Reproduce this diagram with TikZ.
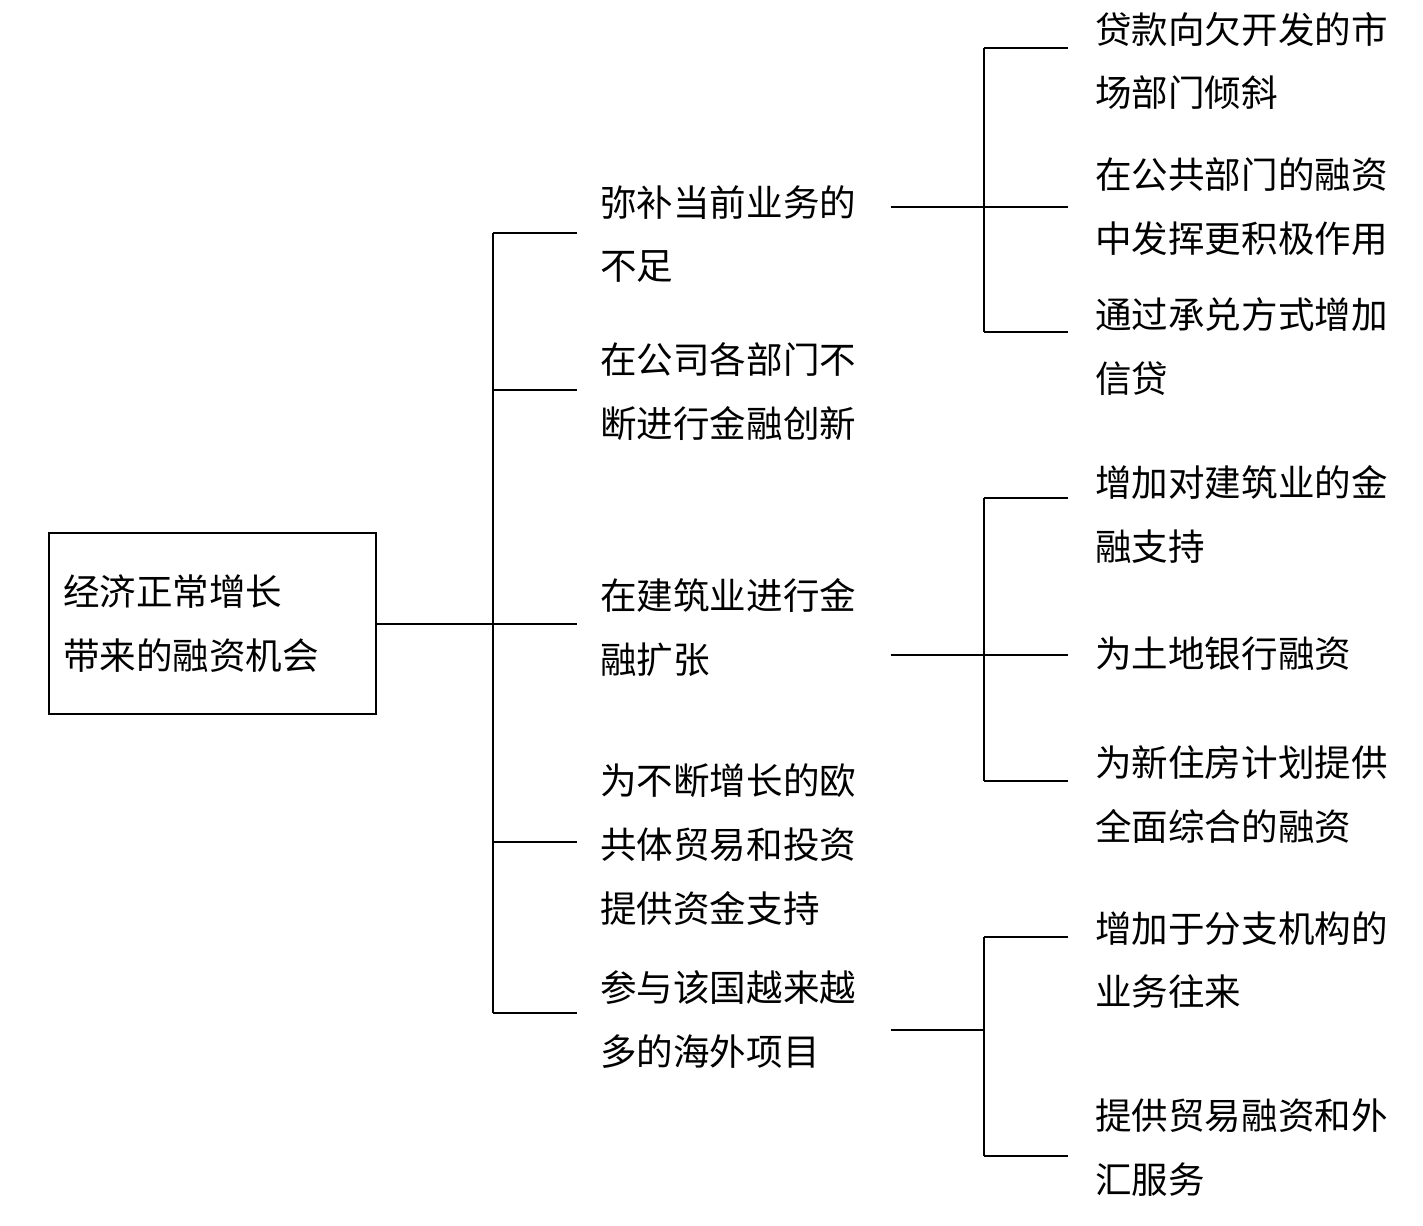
\documentclass[tikz,border=0pt]{standalone}
\usepackage{fontspec}
\newfontfamily\cjk{Noto Sans CJK SC}

\begin{document}
\begin{tikzpicture}[
    x=0.02cm, y=-0.02cm,
    item/.style={anchor=west, inner sep=0pt, align=left, font=\cjk\fontsize{20.8}{36.4}\selectfont},
    rootbox/.style={draw, line width=0.8pt, minimum height=3.62cm, text width=5.98cm, inner xsep=0.28cm, align=left, font=\cjk\fontsize{20.8}{36.4}\selectfont},
    link/.style={line width=0.8pt},
]
  \path[fill=white, use as bounding box] (0,0) rectangle (1423,1225);

  % left box
  \node[rootbox] (root) at (212.5,623.5) {经济正常增长\\带来的融资机会};

  % middle column
  \node[item] (m1) at (600,234) {弥补当前业务的\\不足};
  \node[item] (m2) at (600,392) {在公司各部门不\\断进行金融创新};
  \node[item] (m3) at (600,628) {在建筑业进行金\\融扩张};
  \node[item] (m4) at (600,845) {为不断增长的欧\\共体贸易和投资\\提供资金支持};
  \node[item] (m5) at (600,1020) {参与该国越来越\\多的海外项目};

  % right column
  \node[item] (r1) at (1095,61) {贷款向欠开发的市\\场部门倾斜};
  \node[item] (r2) at (1095,207) {在公共部门的融资\\中发挥更积极作用};
  \node[item] (r3) at (1095,347) {通过承兑方式增加\\信贷};
  \node[item] (r4) at (1095,514) {增加对建筑业的金\\融支持};
  \node[item] (r5) at (1095,654) {为土地银行融资};
  \node[item] (r6) at (1095,795) {为新住房计划提供\\全面综合的融资};
  \node[item] (r7) at (1095,960) {增加于分支机构的\\业务往来};
  \node[item] (r8) at (1095,1148) {提供贸易融资和外\\汇服务};

  % main bracket
  \coordinate (j1) at (493,233);
  \coordinate (j2) at (493,390);
  \coordinate (j3) at (493,624);
  \coordinate (j4) at (493,842);
  \coordinate (j5) at (493,1013);
  \draw[link] (root.east |- j3) -- (j3);
  \draw[link] (j1) -- (j5);
  \draw[link] (j1) -- ++(84,0);
  \draw[link] (j2) -- ++(84,0);
  \draw[link] (j3) -- ++(84,0);
  \draw[link] (j4) -- ++(84,0);
  \draw[link] (j5) -- ++(84,0);

  % right brackets
  \coordinate (hubA) at (984,207);
  \coordinate (hubB) at (984,655);
  \coordinate (hubC) at (984,1030);
  \draw[link] ([xshift=0.68cm]m1.east |- hubA) -- (hubA);
  \draw[link] ([xshift=0.68cm]m3.east |- hubB) -- (hubB);
  \draw[link] ([xshift=0.68cm]m5.east |- hubC) -- (hubC);

  \coordinate (a1) at (984,48);
  \coordinate (a3) at (984,332);
  \draw[link] (a1) -- (a3);
  \draw[link] (a1) -- ++(84,0);
  \draw[link] (hubA) -- ++(84,0);
  \draw[link] (a3) -- ++(84,0);

  \coordinate (b1) at (984,498);
  \coordinate (b3) at (984,781);
  \draw[link] (b1) -- (b3);
  \draw[link] (b1) -- ++(84,0);
  \draw[link] (hubB) -- ++(84,0);
  \draw[link] (b3) -- ++(84,0);

  \coordinate (c1) at (984,937);
  \coordinate (c2) at (984,1156);
  \draw[link] (c1) -- (c2);
  \draw[link] (c1) -- ++(84,0);
  \draw[link] (c2) -- ++(84,0);
\end{tikzpicture}
\end{document}
